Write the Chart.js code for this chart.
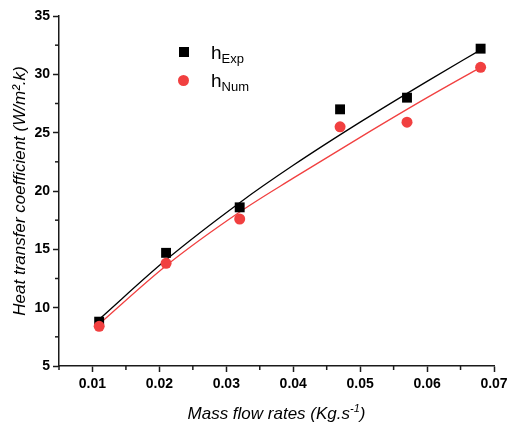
<!DOCTYPE html>
<html>
<head>
<meta charset="utf-8">
<script src="https://cdn.jsdelivr.net/npm/chart.js@4.4.0/dist/chart.umd.min.js"></script>
<style>
  html, body { margin: 0; padding: 0; background: #fff; }
  #wrap { position: relative; width: 508px; height: 425px; }
  .leg { position: absolute; left: 211px; font-family: 'Liberation Sans', Arial, sans-serif; font-size: 19px; line-height: 19px; color: #000; white-space: nowrap; }
  .leg span { font-size: 13px; position: relative; top: 4px; }
  .mk { position: absolute; }
  #xtitle { position: absolute; left: 59px; width: 435px; top: 405px; text-align: center; font-family: 'Liberation Sans', Arial, sans-serif; font-size: 17px; line-height: 17px; font-style: italic; color: #000; white-space: nowrap; }
  #xtitle sup { font-size: 11px; position: relative; top: -7px; vertical-align: baseline; }
</style>
</head>
<body>
<div id="wrap">
  <canvas id="chart" width="508" height="425"></canvas>
  <div class="mk" style="left:179px; top:47px; width:10px; height:10px; background:#000;"></div>
  <div class="mk" style="left:178px; top:75px; width:11px; height:11px; border-radius:50%; background:#f14040;"></div>
  <div class="leg" style="top:43px;">h<span>Exp</span></div>
  <div class="leg" style="top:71px;">h<span>Num</span></div>
  <div id="xtitle">Mass flow rates (Kg.s<sup>-1</sup>)</div>
</div>
<script>
// mass flow rates (kg/s) where h was measured / computed
const flowRates = [0.011, 0.021, 0.032, 0.047, 0.057, 0.068];
const hExp = [8.8, 14.7, 18.6, 27.0, 28.0, 32.2];
const hNum = [8.4, 13.8, 17.6, 25.5, 25.9, 30.6];

// fit curves
const fitX = [0.011, 0.021, 0.032, 0.04, 0.05, 0.06, 0.068];
const fitExp = [9.0, 14.1, 19.0, 22.2, 25.9, 29.4, 32.1];
const fitNum = [8.6, 13.6, 18.2, 21.1, 24.6, 28.0, 30.6];

const xTicks = [0.01, 0.02, 0.03, 0.04, 0.05, 0.06, 0.07];
const xMinor = [0.005, 0.015, 0.025, 0.035, 0.045, 0.055, 0.065];
const yTicks = [5, 10, 15, 20, 25, 30, 35];
const yMinor = [7.5, 12.5, 17.5, 22.5, 27.5, 32.5];

const RED = '#f14040';
const AXIS = '#1a1a1a';
const FONT = "'Liberation Sans', Arial, sans-serif";

const toPts = (xs, ys) => xs.map((x, i) => ({ x, y: ys[i] }));

// short minor ticks between the labelled ones
const minorTicks = {
  id: 'minorTicks',
  afterDraw(chart) {
    const { ctx, scales: { x, y } } = chart;
    ctx.save();
    ctx.strokeStyle = AXIS;
    ctx.lineWidth = 1.5;
    xMinor.forEach((v) => {
      const px = x.getPixelForValue(v);
      ctx.beginPath();
      ctx.moveTo(px, x.top);
      ctx.lineTo(px, x.top + 4);
      ctx.stroke();
    });
    yMinor.forEach((v) => {
      const py = y.getPixelForValue(v);
      ctx.beginPath();
      ctx.moveTo(y.right, py);
      ctx.lineTo(y.right - 4, py);
      ctx.stroke();
    });
    ctx.restore();
  },
};

new Chart(document.getElementById('chart'), {
  type: 'scatter',
  data: {
    datasets: [
      { label: 'hNum', data: toPts(flowRates, hNum), pointStyle: 'circle', pointRadius: 5.5, pointHoverRadius: 5.5, backgroundColor: RED, borderWidth: 0, order: 0 },
      { label: 'hExp', data: toPts(flowRates, hExp), pointStyle: 'rect', pointRadius: 7, pointHoverRadius: 7, backgroundColor: '#000', borderWidth: 0, order: 1 },
      { type: 'line', label: 'fitNum', data: toPts(fitX, fitNum), borderColor: RED, borderWidth: 1.3, pointRadius: 0, cubicInterpolationMode: 'monotone', fill: false, order: 2 },
      { type: 'line', label: 'fitExp', data: toPts(fitX, fitExp), borderColor: '#000', borderWidth: 1.3, pointRadius: 0, cubicInterpolationMode: 'monotone', fill: false, order: 3 },
    ],
  },
  options: {
    responsive: false,
    animation: false,
    layout: { padding: { left: 0, right: 0, top: 16, bottom: 0 } },
    plugins: { legend: { display: false }, tooltip: { enabled: false } },
    scales: {
      x: {
        type: 'linear',
        min: 0.005,
        max: 0.07,
        afterBuildTicks: (scale) => { scale.ticks = xTicks.map((v) => ({ value: v })); },
        afterFit: (scale) => { scale.height = 59; scale.paddingRight = 14; },
        border: { color: AXIS, width: 1.5 },
        grid: { drawOnChartArea: false, tickLength: 6, color: AXIS, tickWidth: 1.5 },
        ticks: { color: '#000', padding: 4, font: { family: FONT, size: 14, weight: 'bold' }, callback: (v) => Number(v).toFixed(2), maxRotation: 0 },
        title: { display: false },
      },
      y: {
        type: 'linear',
        min: 5,
        max: 35,
        afterBuildTicks: (scale) => { scale.ticks = yTicks.map((v) => ({ value: v })); },
        afterFit: (scale) => { scale.width = 59; },
        border: { color: AXIS, width: 1.5 },
        grid: { drawOnChartArea: false, tickLength: 6, color: AXIS, tickWidth: 1.5 },
        ticks: { color: '#000', padding: 3, font: { family: FONT, size: 14, weight: 'bold' } },
        title: { display: true, text: 'Heat transfer coefficient (W/m\u00B2.k)', color: '#000', padding: { top: 10, bottom: 0 }, font: { family: FONT, size: 17, style: 'italic' } },
      },
    },
  },
  plugins: [minorTicks],
});
</script>
</body>
</html>
